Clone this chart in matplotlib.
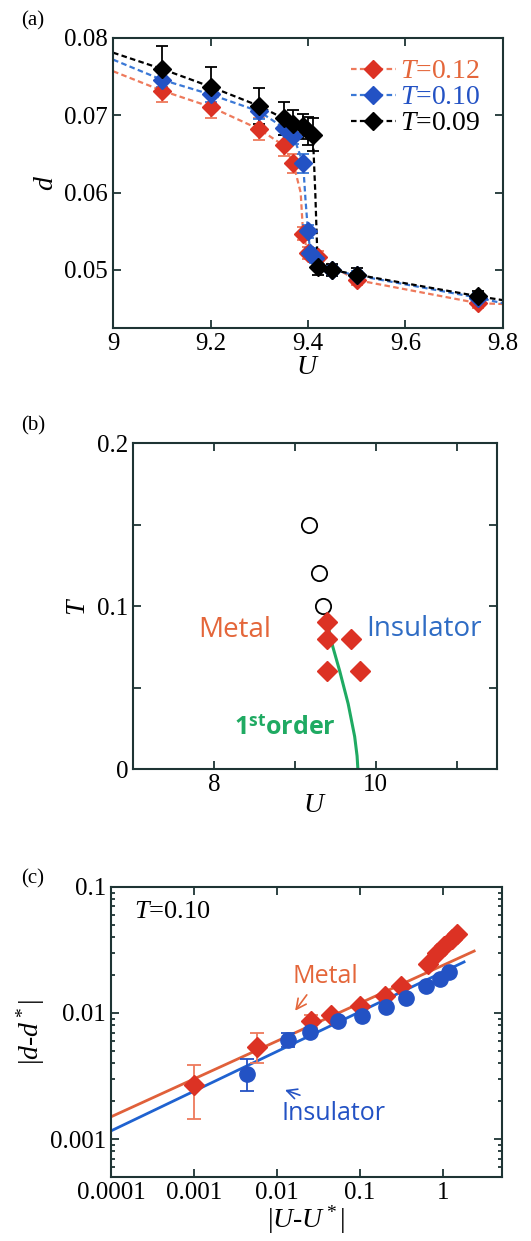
import numpy as np
import matplotlib.pyplot as plt
from matplotlib.ticker import FixedLocator, FuncFormatter, LogLocator, NullFormatter

# ----------------------------
# Global plotting style
# ----------------------------
plt.rcParams["font.family"] = "Liberation Serif"
plt.rcParams["mathtext.fontset"] = "custom"
plt.rcParams["mathtext.rm"] = "Liberation Serif"
plt.rcParams["mathtext.it"] = "Liberation Serif:italic"
plt.rcParams["font.size"] = 18
plt.rcParams["axes.linewidth"] = 1.5
plt.rcParams["axes.edgecolor"] = "#1e3434"

# ---------------- panel (a) data ----------------
U_t012 = [9.1, 9.2, 9.3, 9.35, 9.37, 9.39, 9.40, 9.42, 9.5, 9.75]
d_t012 = [0.0732, 0.0711, 0.0682, 0.0661, 0.0638, 0.0547, 0.0522, 0.0517, 0.0487, 0.0457]
e_t012 = [0.0015, 0.0014, 0.0014, 0.0014, 0.0012, 0.0008, 0.0008, 0.0007, 0.0006, 0.0006]

U_t010 = [9.1, 9.2, 9.3, 9.35, 9.37, 9.39, 9.40, 9.405, 9.415, 9.45, 9.5, 9.75]
d_t010 = [0.0746, 0.0727, 0.0705, 0.0684, 0.0673, 0.0638, 0.0550, 0.0522, 0.0515, 0.0500, 0.0493, 0.0464]
e_t010 = [0.0010, 0.0010, 0.0010, 0.0010, 0.0010, 0.0012, 0.0008, 0.0006, 0.0006, 0.0006, 0.0006, 0.0006]

U_t009 = [9.1, 9.2, 9.3, 9.35, 9.37, 9.39, 9.40, 9.41, 9.42, 9.45, 9.5, 9.75]
d_t009 = [0.0760, 0.0737, 0.0712, 0.0696, 0.0689, 0.0686, 0.0680, 0.0675, 0.0504, 0.0500, 0.0494, 0.0466]
e_t009 = [0.0029, 0.0026, 0.0023, 0.0021, 0.0018, 0.0016, 0.0018, 0.0021, 0.0010, 0.0008, 0.0008, 0.0007]

# dashed guide curves
gU_t012 = [9.0, 9.1, 9.2, 9.3, 9.35, 9.37, 9.385, 9.39, 9.40, 9.42, 9.5, 9.75, 9.8]
gd_t012 = [0.0757, 0.0732, 0.0711, 0.0682, 0.0661, 0.0638, 0.0600, 0.0547, 0.0522, 0.0515, 0.0487, 0.0457, 0.0456]
gU_t010 = [9.0, 9.1, 9.2, 9.3, 9.35, 9.37, 9.39, 9.395, 9.40, 9.405, 9.415, 9.45, 9.5, 9.75, 9.8]
gd_t010 = [0.0772, 0.0746, 0.0727, 0.0705, 0.0684, 0.0673, 0.0638, 0.0590, 0.0550, 0.0522, 0.0515, 0.0500, 0.0493, 0.0464, 0.0457]
gU_t009 = [9.0, 9.1, 9.2, 9.3, 9.35, 9.37, 9.39, 9.40, 9.41, 9.415, 9.42, 9.45, 9.5, 9.75, 9.8]
gd_t009 = [0.0781, 0.0760, 0.0737, 0.0712, 0.0696, 0.0689, 0.0686, 0.0680, 0.0675, 0.0600, 0.0504, 0.0500, 0.0494, 0.0466, 0.0461]

# ---------------- panel (b) data ----------------
U_cross = [9.17, 9.30, 9.35]
T_cross = [0.15, 0.12, 0.10]
U_first = [9.40, 9.40, 9.70, 9.40, 9.80]
T_first = [0.09, 0.08, 0.08, 0.06, 0.06]
U_line = [9.41, 9.47, 9.556, 9.66, 9.74, 9.77, 9.78]
T_line = [0.088, 0.075, 0.060, 0.040, 0.020, 0.008, 0.0]

# ---------------- panel (c) data ----------------
dU_metal = [0.001, 0.0057, 0.026, 0.045, 0.10, 0.20, 0.31, 0.66, 0.85, 1.02, 1.29, 1.48]
dd_metal = [0.0027, 0.0054, 0.0086, 0.0097, 0.0113, 0.0136, 0.0163, 0.0243, 0.030, 0.034, 0.0386, 0.042]
ee_lo_metal = [0.00126, 0.0014, 0.0010, 0, 0, 0, 0, 0, 0, 0, 0, 0]
ee_hi_metal = [0.0012, 0.0015, 0.0011, 0, 0, 0, 0, 0, 0, 0, 0, 0]
dU_ins = [0.0043, 0.0135, 0.0253, 0.055, 0.106, 0.207, 0.36, 0.63, 0.91, 1.17]
dd_ins = [0.0033, 0.0061, 0.0071, 0.0086, 0.0095, 0.0112, 0.0132, 0.0163, 0.0187, 0.0211]
ee_lo_ins = [0.0009, 0.0007, 0, 0, 0, 0, 0, 0, 0, 0]
ee_hi_ins = [0.0010, 0.0008, 0, 0, 0, 0, 0, 0, 0, 0]
fitU_metal = [0.0001, 2.37]
fitd_metal = [0.0015, 0.031]
fitU_ins = [0.0001, 1.79]
fitd_ins = [0.00116, 0.0254]

RED = "#dc3224"
RED_LINE = "#ee7a5c"
BLUE = "#2352c4"
BLUE_LINE = "#3a78d6"
ORANGE_TXT = "#e4663a"
BLUE_TXT = "#2f6cc4"
GREEN = "#1faa62"

fig = plt.figure(figsize=(5.31, 12.41), dpi=100)


def style_ticks(ax):
    ax.tick_params(axis="both", which="both", direction="in", top=True, right=True,
                   width=1.3, color="#1e3434")
    ax.tick_params(axis="both", which="major", length=6, labelsize=18)
    ax.tick_params(axis="both", which="minor", length=3)


# ---------------- (a) ----------------
ax1 = fig.add_axes([0.213, 0.7357, 0.734, 0.2337])
series = [
    (U_t012, d_t012, e_t012, gU_t012, gd_t012, RED, RED_LINE, "$T$=0.12"),
    (U_t010, d_t010, e_t010, gU_t010, gd_t010, BLUE, BLUE_LINE, "$T$=0.10"),
    (U_t009, d_t009, e_t009, gU_t009, gd_t009, "black", "black", "$T$=0.09"),
]
handles = []
for U, d, e, gU, gd, mc, lc, lab in series:
    ax1.plot(gU, gd, linestyle=(0, (2.5, 1.5)), color=lc, linewidth=1.6, zorder=2)
    ax1.errorbar(U, d, yerr=e, fmt="none", ecolor=lc if mc != "black" else "black",
                 elinewidth=1.3, capsize=4, capthick=1.3, zorder=3)
    ax1.plot(U, d, "D", color=mc, markersize=9, zorder=4)
    h, = ax1.plot([], [], linestyle=(0, (2.5, 1.5)), color=lc, linewidth=1.6,
                  marker="D", markerfacecolor=mc, markeredgecolor=mc, markersize=9)
    handles.append(h)
leg = ax1.legend(handles, [s[7] for s in series], loc="upper right", frameon=False,
                 fontsize=20, handlelength=1.6, handletextpad=0.15, labelspacing=0.02,
                 borderaxespad=0.2, bbox_to_anchor=(0.985, 0.985))
for txt, s in zip(leg.get_texts(), series):
    txt.set_color(s[5] if s[5] != RED else ORANGE_TXT)
ax1.set_xlim(9, 9.8)
ax1.set_ylim(0.0425, 0.08)
ax1.set_xticks([9, 9.2, 9.4, 9.6, 9.8])
ax1.set_xticklabels(["9", "9.2", "9.4", "9.6", "9.8"])
ax1.set_yticks([0.05, 0.06, 0.07, 0.08])
ax1.set_yticklabels(["0.05", "0.06", "0.07", "0.08"])
style_ticks(ax1)
ax1.set_xlabel("$U$", fontsize=20, labelpad=0)
ax1.set_ylabel("$d$", fontsize=20, labelpad=4)
fig.text(0.04, 0.983, "(a)", fontsize=15, va="center")

# ---------------- (b) ----------------
ax2 = fig.add_axes([0.2505, 0.3803, 0.6855, 0.2627])
ax2.plot(U_line, T_line, color=GREEN, linewidth=2.2, zorder=2)
ax2.plot(U_cross, T_cross, "o", markerfacecolor="white", markeredgecolor="black",
         markeredgewidth=1.3, markersize=11, zorder=3)
ax2.plot(U_first, T_first, "D", color=RED, markersize=10, zorder=3)
ax2.set_xlim(7, 11.5)
ax2.set_ylim(0, 0.2)
ax2.xaxis.set_major_locator(FixedLocator([8, 10]))
ax2.xaxis.set_minor_locator(FixedLocator([9, 11]))
ax2.yaxis.set_major_locator(FixedLocator([0, 0.1, 0.2]))
ax2.yaxis.set_minor_locator(FixedLocator([0.05, 0.15]))
ax2.set_xticklabels(["8", "10"])
ax2.set_yticklabels(["0", "0.1", "0.2"])
style_ticks(ax2)
ax2.tick_params(axis="both", which="minor", length=6)
ax2.set_xlabel("$U$", fontsize=20, labelpad=-2)
ax2.set_ylabel("$T$", fontsize=20, labelpad=4)
ax2.text(8.26, 0.085, "Metal", color=ORANGE_TXT, fontsize=20, family="Open Sans",
         ha="center", va="center")
ax2.text(10.6, 0.086, "Insulator", color=BLUE_TXT, fontsize=20, family="Open Sans",
         ha="center", va="center")
ax2.text(8.88, 0.025, r"1$^{\mathregular{st}}$order", color=GREEN, fontsize=18,
         family="Open Sans", fontweight="bold", ha="center", va="center")
fig.text(0.04, 0.657, "(b)", fontsize=15, va="center")

# ---------------- (c) ----------------
ax3 = fig.add_axes([0.209, 0.0516, 0.736, 0.2337])
ax3.set_xscale("log")
ax3.set_yscale("log")
ax3.plot(fitU_metal, fitd_metal, color="#e0603a", linewidth=2.0, zorder=2)
ax3.plot(fitU_ins, fitd_ins, color="#1f62d0", linewidth=2.0, zorder=2)
ax3.errorbar(dU_metal, dd_metal, yerr=[ee_lo_metal, ee_hi_metal], fmt="none",
             ecolor=RED_LINE, elinewidth=1.3, capsize=5, capthick=1.3, zorder=3)
ax3.errorbar(dU_ins, dd_ins, yerr=[ee_lo_ins, ee_hi_ins], fmt="none",
             ecolor=BLUE, elinewidth=1.3, capsize=5, capthick=1.3, zorder=3)
ax3.plot(dU_metal, dd_metal, "D", color=RED, markersize=10, zorder=4)
ax3.plot(dU_ins, dd_ins, "o", color=BLUE, markersize=11, zorder=5)
ax3.set_xlim(1e-4, 5.1)
ax3.set_ylim(5e-4, 0.1)
ax3.xaxis.set_major_locator(FixedLocator([1e-4, 1e-3, 1e-2, 1e-1, 1]))
ax3.xaxis.set_minor_locator(FixedLocator([]))
ax3.yaxis.set_major_locator(FixedLocator([1e-3, 1e-2, 1e-1]))
ax3.yaxis.set_minor_locator(LogLocator(base=10, subs=np.arange(2, 10), numticks=20))
ax3.yaxis.set_minor_formatter(NullFormatter())
fmt = FuncFormatter(lambda v, p: "%g" % v)
ax3.xaxis.set_major_formatter(fmt)
ax3.yaxis.set_major_formatter(fmt)
style_ticks(ax3)
ax3.set_xlabel("|$U$-$U^*$|", fontsize=20, labelpad=0)
ax3.set_ylabel("|$d$-$d^*$|", fontsize=20, labelpad=2)
ax3.text(0.06, 0.913, "$T$=0.10", transform=ax3.transAxes, fontsize=19,
         ha="left", va="center")
ax3.annotate("", xy=(0.0158, 0.0100), xytext=(0.0239, 0.0145),
             arrowprops=dict(arrowstyle="->", color=ORANGE_TXT, lw=1.2))
ax3.text(0.0383, 0.0196, "Metal", color=ORANGE_TXT, fontsize=18, family="Open Sans",
         ha="center", va="center")
ax3.annotate("", xy=(0.0116, 0.00249), xytext=(0.0203, 0.00219),
             arrowprops=dict(arrowstyle="->", color=BLUE, lw=1.2))
ax3.text(0.0483, 0.00159, "Insulator", color=BLUE, fontsize=18, family="Open Sans",
         ha="center", va="center")
fig.text(0.04, 0.292, "(c)", fontsize=15, va="center")

fig.savefig("out.png", dpi=100)
